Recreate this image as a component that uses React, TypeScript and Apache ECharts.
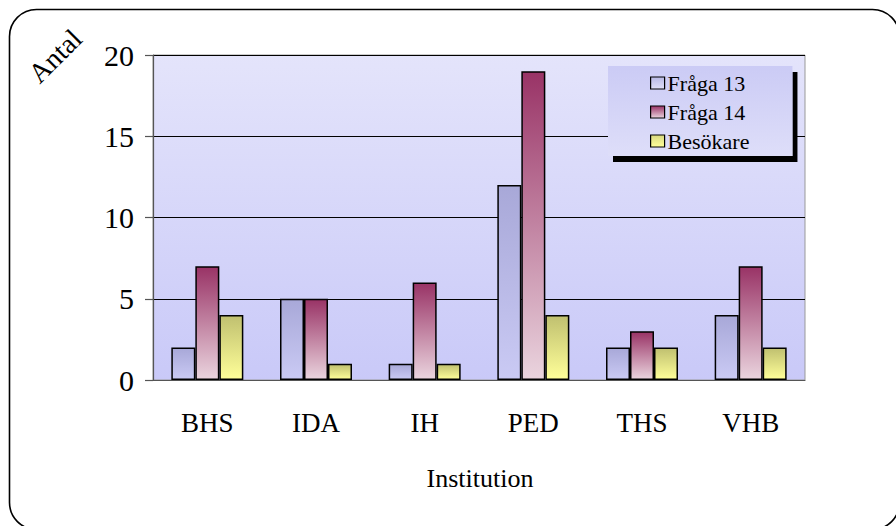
import React, { useEffect, useRef } from "react";
import * as echarts from "echarts";

const categories = ["BHS", "IDA", "IH", "PED", "THS", "VHB"];
const fraga13 = [2, 5, 1, 12, 2, 4];
const fraga14 = [7, 5, 6, 19, 3, 7];
const besokare = [4, 1, 1, 4, 2, 2];
const seriesNames = ["Fråga 13", "Fråga 14", "Besökare"];

const FONT = "'Liberation Serif', 'Times New Roman', serif";

const grad = (top: string, bottom: string) =>
  new echarts.graphic.LinearGradient(0, 0, 0, 1, [
    { offset: 0, color: top },
    { offset: 1, color: bottom },
  ]);

export default function App() {
  const ref = useRef<HTMLDivElement>(null);
  useEffect(() => {
    if (!ref.current) return;
    const chart = echarts.init(ref.current, null, { renderer: "svg" });
    const colors = [
      grad("#a8a8d8", "#cacaf4"),
      grad("#993366", "#ead4de"),
      grad("#c0c070", "#ffff99"),
    ];
    const legendColors = [
      grad("#b8b8e4", "#e0e0f8"),
      grad("#993366", "#ead4de"),
      grad("#d8d880", "#ffff99"),
    ];
    const data = [fraga13, fraga14, besokare];
    chart.setOption({
      animation: false,
      grid: {
        left: 153,
        right: 91,
        top: 55,
        bottom: 146,
        show: true,
        backgroundColor: grad("#e4e4fb", "#c9c9f8"),
        borderColor: "#999999",
        borderWidth: 1,
      },
      legend: {
        orient: "vertical",
        left: 608,
        top: 66,
        padding: [6, 43, 4, 42],
        itemWidth: 14,
        itemHeight: 12,
        itemGap: 7,
        backgroundColor: grad("#cbcbf5", "#dedef9"),
        shadowColor: "#000000",
        shadowBlur: 0,
        shadowOffsetX: 5,
        shadowOffsetY: 6,
        textStyle: { fontFamily: FONT, fontSize: 22, color: "#000", padding: [0, 0, 0, -2] },
        data: seriesNames.map((n, i) => ({
          name: n,
          icon: "rect",
          itemStyle: { color: legendColors[i], borderColor: "#000", borderWidth: 1.2 },
        })),
      },
      xAxis: {
        type: "category",
        data: categories,
        axisLine: { lineStyle: { color: "#555", width: 1.2 } },
        axisTick: { length: 9, lineStyle: { color: "#555", width: 1.2 } },
        axisLabel: {
          fontFamily: FONT,
          fontSize: 27,
          color: "#000",
          margin: 29,
        },
      },
      yAxis: {
        type: "value",
        min: 0,
        max: 20,
        interval: 5,
        axisLine: { show: true, lineStyle: { color: "#555", width: 1.2 } },
        axisTick: { show: true, length: 8, lineStyle: { color: "#555", width: 1.2 } },
        axisLabel: {
          fontFamily: FONT,
          fontSize: 30,
          color: "#000",
          margin: 19,
        },
        splitLine: { lineStyle: { color: "#000", width: 1 } },
      },
      series: seriesNames.map((n, i) => ({
        name: n,
        type: "bar",
        data: data[i],
        barWidth: 24,
        barGap: "0%",
        itemStyle: {
          color: colors[i],
          borderColor: "#000",
          borderWidth: 1.5,
        },
      })),
      graphic: [
        {
          type: "rect",
          shape: { x: 9.5, y: 9.5, width: 890, height: 520, r: 27 },
          style: { fill: "none", stroke: "#000", lineWidth: 1.6 },
          silent: true,
        },
        {
          type: "text",
          x: 55,
          y: 56,
          rotation: Math.PI / 4,
          style: {
            text: "Antal",
            fontFamily: FONT,
            fontSize: 28,
            fill: "#000",
            align: "center",
            verticalAlign: "middle",
          },
        },
        {
          type: "text",
          x: 480,
          y: 478,
          style: {
            text: "Institution",
            fontFamily: FONT,
            fontSize: 26,
            fill: "#000",
            align: "center",
            verticalAlign: "middle",
          },
        },
      ],
    });
    return () => chart.dispose();
  }, []);
  return <div ref={ref} style={{ width: 896, height: 526, position: "absolute", left: 0, top: 0 }} />;
}
